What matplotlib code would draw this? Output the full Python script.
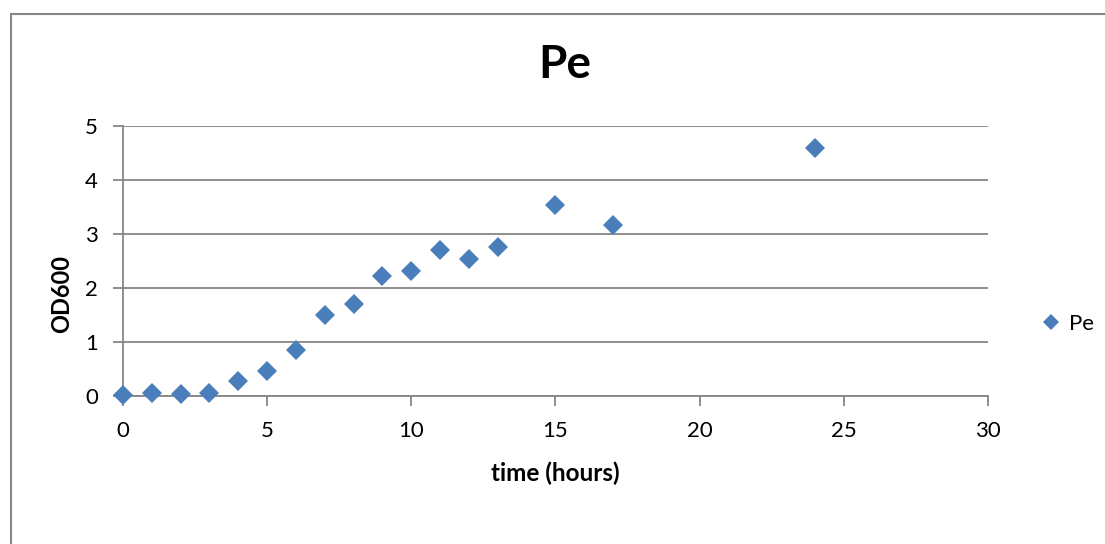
import matplotlib
matplotlib.use("Agg")
from matplotlib import pyplot as plt
from matplotlib.patches import Rectangle

hours = [0, 1, 2, 3, 4, 5, 6, 7, 8, 9, 10, 11, 12, 13, 15, 17, 24]
od600 = [0.01, 0.05, 0.04, 0.06, 0.28, 0.47, 0.85, 1.50, 1.70, 2.22,
         2.32, 2.71, 2.54, 2.76, 3.54, 3.17, 4.60]
series_name = "Pe"

x_ticks = [0, 5, 10, 15, 20, 25, 30]
y_ticks = [0, 1, 2, 3, 4, 5]

BLUE = "#4a7ebb"
GRAY = "#868686"

plt.rcParams["font.family"] = ["Lato", "DejaVu Sans"]

W, H = 1105, 544
fig = plt.figure(figsize=(W / 100, H / 100), dpi=100)

# outer chart frame
fig.patches.append(Rectangle((11 / W, -0.05), 1.2, 1 - 14 / H + 0.05,
                             transform=fig.transFigure, fill=False,
                             edgecolor=GRAY, linewidth=1.5))

ax = fig.add_axes([123 / W, 1 - 396 / H, (988 - 123) / W, (396 - 126) / H])
ax.plot(hours, od600, linestyle="none", marker="D", markersize=10.2,
        color=BLUE, markeredgewidth=0, zorder=3, label=series_name,
        clip_on=False)

ax.set_xlim(0, 30)
ax.set_ylim(0, 5)
ax.set_xticks(x_ticks)
ax.set_yticks(y_ticks)
ax.grid(axis="y", color=GRAY, linewidth=1.3)
ax.set_axisbelow(True)

for side in ("top", "right"):
    ax.spines[side].set_visible(False)
for side in ("left", "bottom"):
    ax.spines[side].set_color(GRAY)
    ax.spines[side].set_linewidth(1.3)

ax.tick_params(axis="both", direction="out", length=7, width=1.3,
               color=GRAY, labelsize=16, labelcolor="black")
ax.tick_params(axis="x", pad=11)
ax.tick_params(axis="y", pad=11)

fig.text(565 / W, 1 - 65 / H, "Pe", fontsize=33, fontweight="bold",
         ha="center", va="center")
ax.set_xlabel("time (hours)", fontsize=17.5, fontweight="bold")
ax.xaxis.set_label_coords((555 - 123) / (988 - 123), -(473 - 396) / 270)
ax.xaxis.label.set_va("center")
ax.set_ylabel("OD600", fontsize=17, fontweight="bold")
ax.yaxis.set_label_coords(-(123 - 62) / 865, (396 - 294) / 270)
ax.yaxis.label.set_va("center")

fig.legend(*ax.get_legend_handles_labels(), loc="center left",
           bbox_to_anchor=(1040 / W, 1 - 324 / H), frameon=False,
           fontsize=16, handlelength=1.0, handletextpad=0.3,
           borderaxespad=0, borderpad=0, markerscale=0.8)

fig.savefig("out.png", dpi=100)
